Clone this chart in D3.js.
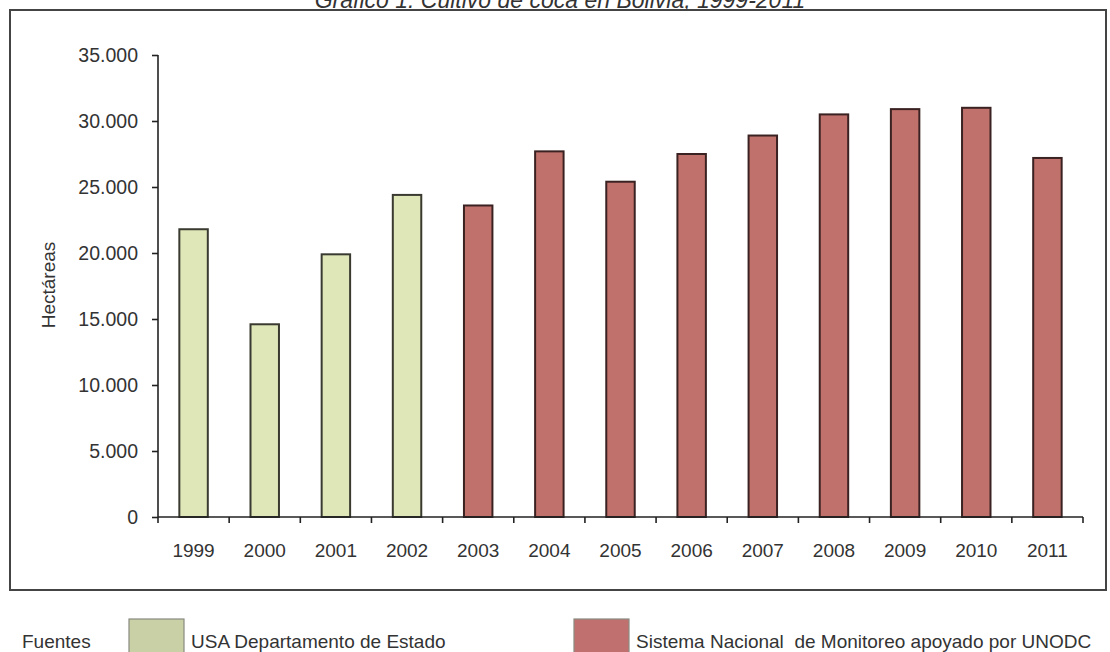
<!DOCTYPE html>
<html>
<head>
<meta charset="utf-8">
<script src="https://cdn.jsdelivr.net/npm/d3@7"></script>
<style>
  html, body { margin: 0; padding: 0; background: #fff; }
  svg { display: block; }
  text { font-family: "Liberation Sans", Arial, sans-serif; fill: #333; }
</style>
</head>
<body>
<svg id="chart" width="1110" height="652"></svg>
<script>
const years = ["1999","2000","2001","2002","2003","2004","2005","2006","2007","2008","2009","2010","2011"];
const hectares = [21800, 14600, 19900, 24400, 23600, 27700, 25400, 27500, 28900, 30500, 30900, 31000, 27200];
const sources = ["usa","usa","usa","usa","unodc","unodc","unodc","unodc","unodc","unodc","unodc","unodc","unodc"];
const yTicks = [0, 5000, 10000, 15000, 20000, 25000, 30000, 35000];
const legendLabels = ["USA Departamento de Estado", "Sistema Nacional  de Monitoreo apoyado por UNODC"];
const titleText = "Gráfico 1. Cultivo de coca en Bolivia, 1999-2011";
const yLabel = "Hectáreas";

const fills = { usa: "#dfe7b9", unodc: "#c0716b" };
const strokes = { usa: "#3a3a30", unodc: "#3b2222" };

const svg = d3.select("#chart");

// title (partly cut off at the top, as in the reference)
svg.append("text").attr("x", 560).attr("y", 8).attr("text-anchor", "middle")
  .attr("font-size", 23).attr("font-style", "italic").text(titleText);

// frame
svg.append("rect").attr("x", 10).attr("y", 10).attr("width", 1096).attr("height", 580)
  .attr("fill", "none").attr("stroke", "#444").attr("stroke-width", 2);

const x0 = 158, x1 = 1083, yTop = 55, yBot = 517;
const x = d3.scaleBand().domain(years).range([x0, x1]).paddingInner(0.6).paddingOuter(0.3);
const y = d3.scaleLinear().domain([0, 35000]).range([yBot, yTop]);

// bars
svg.append("g").selectAll("rect").data(years).join("rect")
  .attr("x", d => x(d))
  .attr("y", (d, i) => y(hectares[i]))
  .attr("width", x.bandwidth())
  .attr("height", (d, i) => yBot - y(hectares[i]))
  .attr("fill", (d, i) => fills[sources[i]])
  .attr("stroke", (d, i) => strokes[sources[i]])
  .attr("stroke-width", 2);

// y axis
const fmt = v => v === 0 ? "0" : d3.format(",")(v).replace(/,/g, ".");
const yAxis = svg.append("g").attr("transform", `translate(${x0},0)`)
  .call(d3.axisLeft(y).tickValues(yTicks).tickSize(6).tickPadding(14).tickFormat(fmt));
yAxis.select(".domain").attr("stroke", "#222").attr("stroke-width", 1.6).attr("d", `M0,${yTop}V${yBot}`);
yAxis.selectAll(".tick line").attr("stroke", "#222").attr("stroke-width", 1.6);
yAxis.selectAll(".tick text").attr("font-size", 19.5).attr("fill", "#333")
  .style("font-family", "'Liberation Sans', Arial, sans-serif");

// x axis: ticks at category boundaries
const step = x.step();
const xAxis = svg.append("g").attr("transform", `translate(0,${yBot})`);
xAxis.append("line").attr("x1", x0).attr("x2", x1).attr("stroke", "#222").attr("stroke-width", 1.6);
xAxis.selectAll("line.tk").data(d3.range(years.length + 1)).join("line").attr("class", "tk")
  .attr("x1", i => x0 + i * step).attr("x2", i => x0 + i * step)
  .attr("y1", 0).attr("y2", 6).attr("stroke", "#222").attr("stroke-width", 1.6);
xAxis.selectAll("text").data(years).join("text")
  .attr("x", d => x(d) + x.bandwidth() / 2).attr("y", 40)
  .attr("text-anchor", "middle").attr("font-size", 19).text(d => d);

// y label
svg.append("text").attr("transform", "translate(55,285) rotate(-90)")
  .attr("text-anchor", "middle").attr("font-size", 19).text(yLabel);

// legend
svg.append("text").attr("x", 22).attr("y", 648).attr("font-size", 19).text("Fuentes");
const legendKeys = ["usa", "unodc"];
const legendSwatchFill = { usa: "#c9d0a5", unodc: "#c0716f" };
const legendX = [129, 574];
legendKeys.forEach((k, i) => {
  svg.append("rect").attr("x", legendX[i]).attr("y", 619).attr("width", 55).attr("height", 40)
    .attr("fill", legendSwatchFill[k]).attr("stroke", "#8a8a80").attr("stroke-width", 1.2);
  svg.append("text").attr("x", legendX[i] + 62).attr("y", 648).attr("font-size", 19)
    .style("white-space", "pre").attr("xml:space", "preserve").text(legendLabels[i]);
});
</script>
</body>
</html>
